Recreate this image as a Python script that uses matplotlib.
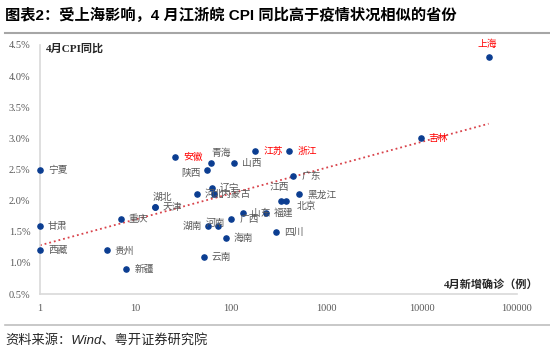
import matplotlib.pyplot as plt
import numpy as np

# Data
provinces = ['宁夏', '甘肃', '西藏', '贵州', '重庆', '新疆', '湖北', '天津', '安徽', '河北',
             '云南', '陕西', '湖南', '青海', '辽宁', '内蒙古', '河南', '海南', '广西', '山西',
             '山东', '江苏', '福建', '四川', '江西', '北京', '浙江', '广东', '黑龙江', '吉林', '上海']
new_cases = [1, 1, 1, 5, 7, 8, 16, 16, 26, 44,
             52, 56, 58, 62, 63, 67, 74, 89, 101, 107,
             135, 181, 234, 297, 335, 381, 410, 454, 521, 9740, 50400]
cpi = [2.5, 1.6, 1.2, 1.2, 1.7, 0.9, 1.9, 1.9, 2.7, 2.1,
       1.1, 2.5, 1.6, 2.6, 2.2, 2.1, 1.6, 1.4, 1.7, 2.6,
       1.8, 2.8, 1.8, 1.5, 2.0, 2.0, 2.8, 2.4, 2.1, 3.0, 4.3]
red_names = {'上海', '吉林', '江苏', '浙江', '安徽'}

x_ticks = [1, 10, 100, 1000, 10000, 100000]
x_tick_labels = ['1', '10', '100', '1000', '10000', '100000']
y_ticks = [0.5, 1.0, 1.5, 2.0, 2.5, 3.0, 3.5, 4.0, 4.5]

# label offsets in pixels (dx, dy downwards, ha); default: right of the point
label_pos = {
    '上海': (-1, -13, 'center'),
    '青海': (0, -10, 'left'),
    '湖北': (-2, -10, 'left'),
    '陕西': (-6, 3, 'right'),
    '湖南': (-6, 0, 'right'),
    '河南': (-3, -3, 'center'),
    '江西': (-2, -14, 'center'),
    '北京': (10, 5, 'left'),
    '内蒙古': (7, 0, 'left'),
}

CJK = ['Noto Sans CJK SC']
SERIF = ['Liberation Serif', 'Noto Sans CJK SC']
grey = '#595959'

fig = plt.figure(figsize=(5.5, 3.52), dpi=100)
ax = fig.add_axes([40 / 550, 1 - 294 / 352, 477 / 550, 249 / 352])

ax.scatter(new_cases, cpi, s=14, color='#0B3D91', zorder=3, clip_on=False)

# logarithmic trendline
b, a = np.polyfit(np.log10(new_cases), cpi, 1)
xs = np.logspace(0, np.log10(max(new_cases)), 100)
ax.plot(xs, a + b * np.log10(xs), color='#D9434B', linestyle=':', linewidth=1.3, zorder=2)

for name, n, v in zip(provinces, new_cases, cpi):
    dx, dy, ha = label_pos.get(name, (8, 0, 'left'))
    ax.annotate(name, (n, v), xytext=(dx, -dy), textcoords='offset pixels',
                ha=ha, va='center', fontsize=7, family=CJK,
                color='#FF0000' if name in red_names else grey)

ax.set_xscale('log')
ax.set_xlim(1, 100000)
ax.set_ylim(0.5, 4.5)
ax.xaxis.set_major_locator(plt.FixedLocator(x_ticks))
ax.xaxis.set_minor_locator(plt.NullLocator())
ax.set_xticklabels(x_tick_labels)
ax.set_yticks(y_ticks)
ax.set_yticklabels([f'{v:.1f}%' for v in y_ticks])
ax.tick_params(length=0, labelsize=7.5, labelcolor=grey)
ax.tick_params(axis='y', pad=7)
ax.tick_params(axis='x', pad=7)
for lab in ax.get_xticklabels() + ax.get_yticklabels():
    lab.set_family(SERIF)

for side in ['top', 'right']:
    ax.spines[side].set_visible(False)
for side in ['left', 'bottom']:
    ax.spines[side].set_color('#D9D9D9')
    ax.spines[side].set_linewidth(1.2)

ax.text(0.012, 0.985, '4月CPI同比', transform=ax.transAxes, ha='left', va='center',
        fontsize=8, fontweight='bold', family=SERIF, color='#262626')
fig.text(538 / 550, 1 - 285 / 352, '4月新增确诊（例）', ha='right', va='center',
         fontsize=8, fontweight='bold', family=SERIF, color='#262626')

# title and source
fig.text(5 / 550, 1 - 15 / 352, '图表2：受上海影响，4 月江浙皖 CPI 同比高于疫情状况相似的省份',
         ha='left', va='center', fontsize=11, fontweight='bold',
         family=['Liberation Sans', 'Noto Sans CJK SC'], color='black')
fig.add_artist(plt.Line2D([5 / 550, 1], [1 - 33 / 352] * 2, color='#A6A6A6', linewidth=1.5))
fig.add_artist(plt.Line2D([5 / 550, 1], [1 - 325 / 352] * 2, color='#BFBFBF', linewidth=1.2))
fig.text(5 / 550, 1 - 340 / 352, '资料来源：Wind、粤开证券研究院', ha='left', va='center',
         fontsize=9.5, style='italic', family=['Liberation Sans', 'Noto Sans CJK SC'],
         color='#262626')

print(a, b)
fig.savefig('out.png', dpi=100)
